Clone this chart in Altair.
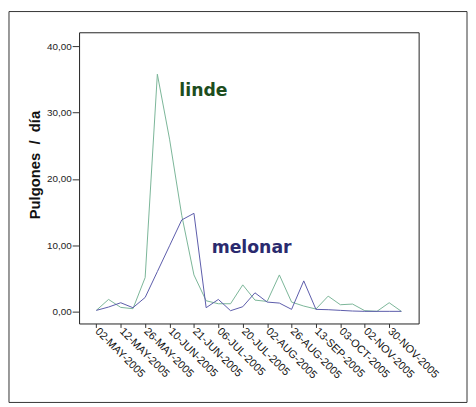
import altair as alt
import pandas as pd

# ---- data ----
dates = [
    "02-MAY-2005", "06-MAY-2005", "12-MAY-2005", "19-MAY-2005", "26-MAY-2005",
    "02-JUN-2005", "10-JUN-2005", "15-JUN-2005", "21-JUN-2005", "28-JUN-2005",
    "06-JUL-2005", "13-JUL-2005", "20-JUL-2005", "27-JUL-2005", "02-AUG-2005",
    "12-AUG-2005", "26-AUG-2005", "05-SEP-2005", "13-SEP-2005", "22-SEP-2005",
    "03-OCT-2005", "17-OCT-2005", "02-NOV-2005", "16-NOV-2005", "30-NOV-2005",
    "14-DEC-2005",
]
linde = [0.15, 1.8, 0.6, 0.4, 5.1, 35.8, 26.0, 14.5, 5.5, 1.6,
         1.15, 1.15, 4.0, 1.7, 1.5, 5.5, 1.4, 0.8, 0.35, 2.3,
         1.0, 1.1, 0.1, 0.0, 1.3, 0.0]
melonar = [0.15, 0.65, 1.3, 0.55, 2.1, 6.0, 9.9, 13.8, 14.8, 0.55,
           1.8, 0.1, 0.7, 2.8, 1.4, 1.25, 0.3, 4.6, 0.3, 0.25,
           0.15, 0.05, 0.0, 0.0, 0.0, 0.0]
series_names = ["linde", "melonar"]
y_ticks = [0, 10, 20, 30, 40]
x_ticks = list(range(0, 25, 2))

# annotation anchors (data coordinates: category index, value)
ann_labels = ["linde", "melonar"]
ann_x = [6.8, 9.45]
ann_y = [32.5, 8.75]

rows = []
for i, d in enumerate(dates):
    rows.append({"idx": i, "fecha": d, "serie": "linde", "valor": linde[i]})
    rows.append({"idx": i, "fecha": d, "serie": "melonar", "valor": melonar[i]})
df = pd.DataFrame(rows)
ann = pd.DataFrame({"serie": ann_labels, "x": ann_x, "y": ann_y})

label_js = "[" + ",".join("'%s'" % d for d in dates) + "]"

x_scale = alt.Scale(domain=[-1.415, 26.415], nice=False, zero=False)
y_scale = alt.Scale(domain=[-1.83, 42.13], nice=False, zero=False)

x_axis = alt.Axis(
    values=x_ticks, tickCount=len(x_ticks) + 1,
    labelExpr=label_js + "[datum.value]",
    labelAngle=45, labelAlign="left", labelBaseline="middle",
    tickSize=4, labelPadding=2, labelFontSize=11, labelFont="Liberation Sans",
    labelColor="#111", domain=False, grid=False, title=None,
    labelOverlap=False, labelFlush=False, labelBound=False,
    tickColor="#333",
)
y_axis = alt.Axis(
    values=y_ticks, tickCount=len(y_ticks) + 1,
    labelExpr="replace(format(datum.value, '.2f'), '.', ',')",
    tickSize=7, labelPadding=1, labelFontSize=10, labelFont="Liberation Sans",
    labelColor="#222", domain=False, grid=False, tickColor="#333",
    title="Pulgones\u00a0\u00a0/\u00a0\u00a0día", titleFont="Liberation Sans",
    titleFontSize=15, titleFontWeight="bold", titleColor="#111",
    titlePadding=4, titleY=134,
)

lines = alt.Chart(df).mark_line(strokeWidth=1).encode(
    x=alt.X("idx:Q", scale=x_scale, axis=x_axis),
    y=alt.Y("valor:Q", scale=y_scale, axis=y_axis),
    color=alt.Color("serie:N", scale=alt.Scale(domain=series_names,
                    range=["#7ab597", "#5a5aaa"]), legend=None),
    detail="serie:N",
)

texts = alt.Chart(ann).mark_text(
    align="left", baseline="alphabetic", font="DejaVu Sans",
    fontWeight="bold", fontSize=17.5,
).encode(
    x=alt.X("x:Q", scale=x_scale),
    y=alt.Y("y:Q", scale=y_scale),
    text="serie:N",
    color=alt.Color("serie:N", scale=alt.Scale(domain=series_names,
                    range=["#1d4d1d", "#2a2a6e"]), legend=None),
)

frame = alt.Chart(pd.DataFrame({"a": [0]})).mark_rect(
    filled=False, stroke="#333", strokeWidth=1, fill=None
).encode(
    x=alt.value(-71), x2=alt.value(393), y=alt.value(-21), y2=alt.value(375)
)

chart = alt.layer(frame, lines, texts).resolve_scale(color="independent").properties(
    width=344, height=295, padding=0, background="white"
).configure_view(stroke="#222", strokeWidth=1)

chart.save("out.html", embed_options={"renderer": "svg", "actions": False})
